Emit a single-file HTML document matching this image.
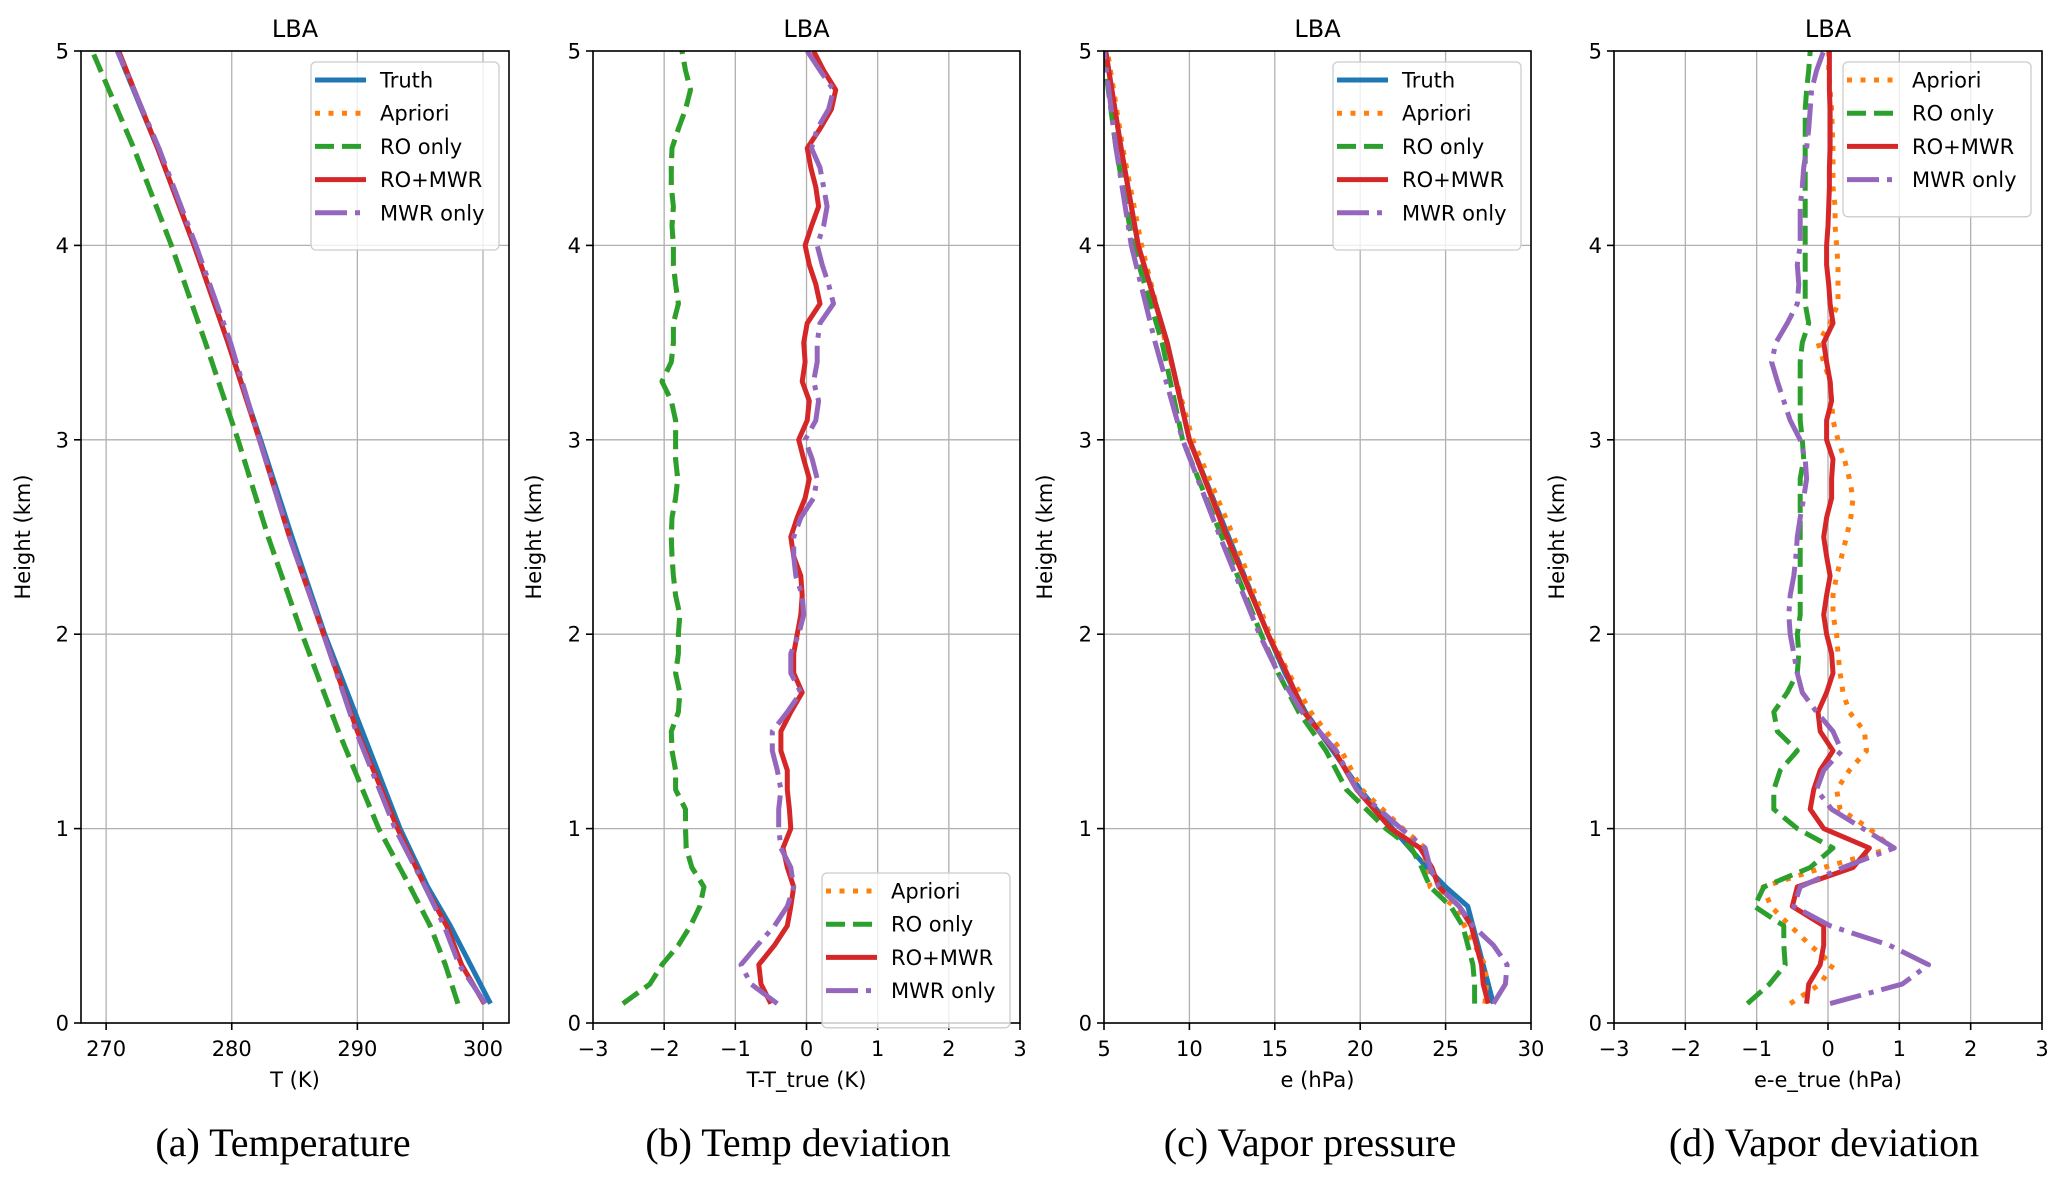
<!DOCTYPE html>
<html><head><meta charset="utf-8">
<style>
html,body{margin:0;padding:0;background:#fff;}
svg{display:block;font-family:"DejaVu Sans","Liberation Sans",sans-serif;}
.cap{font-family:"Liberation Serif",serif;font-size:40px;fill:#000;}
</style></head>
<body>
<svg id="fig" width="2067" height="1181" viewBox="0 0 2067 1181" xmlns="http://www.w3.org/2000/svg"></svg>
<script>
// ---------- DATA ----------
// Panel (a) Temperature
const aHeights = [0.1,0.3,0.5,0.7,1.0,1.5,2.0,2.5,3.0,3.5,4.0,4.5,5.0];
const aTruth  = [300.6,299.0,297.4,295.6,293.4,290.4,287.4,284.8,282.3,279.7,277.0,274.1,270.9];
const aApriori= [298.0,297.0,295.8,294.2,291.7,288.5,285.6,282.9,280.5,277.9,275.2,272.2,268.9];
const aRO     = [298.0,297.0,295.8,294.2,291.7,288.5,285.6,282.9,280.5,277.9,275.2,272.2,268.9];
const aROMWR  = [300.1,298.3,297.1,295.4,293.2,290.0,287.3,284.6,282.2,279.7,277.0,274.1,271.0];
const aMWR    = [300.2,298.1,296.9,295.4,293.0,289.9,287.3,284.6,282.2,279.9,277.15,274.2,270.9];
const aXTicks = [270,280,290,300];

// Panels (b) and (d): heights 0.1..5.0 step 0.1
const devHeights = [0.1,0.2,0.3,0.4,0.5,0.6,0.7,0.8,0.9,1.0,1.1,1.2,1.3,1.4,1.5,1.6,1.7,1.8,1.9,2.0,2.1,2.2,2.3,2.4,2.5,2.6,2.7,2.8,2.9,3.0,3.1,3.2,3.3,3.4,3.5,3.6,3.7,3.8,3.9,4.0,4.1,4.2,4.3,4.4,4.5,4.6,4.7,4.8,4.9,5.0];
const bApriori = [-2.58,-2.2,-2.03,-1.8,-1.63,-1.5,-1.44,-1.61,-1.69,-1.7,-1.7,-1.84,-1.84,-1.89,-1.9,-1.8,-1.78,-1.84,-1.8,-1.8,-1.78,-1.84,-1.87,-1.89,-1.9,-1.89,-1.84,-1.81,-1.84,-1.84,-1.84,-1.9,-2.03,-1.9,-1.87,-1.87,-1.8,-1.84,-1.87,-1.87,-1.89,-1.87,-1.9,-1.9,-1.89,-1.8,-1.7,-1.63,-1.7,-1.75];
const bRO      = [-2.58,-2.2,-2.03,-1.8,-1.63,-1.5,-1.44,-1.61,-1.69,-1.7,-1.7,-1.84,-1.84,-1.89,-1.9,-1.8,-1.78,-1.84,-1.8,-1.8,-1.78,-1.84,-1.87,-1.89,-1.9,-1.89,-1.84,-1.81,-1.84,-1.84,-1.84,-1.9,-2.03,-1.9,-1.87,-1.87,-1.8,-1.84,-1.87,-1.87,-1.89,-1.87,-1.9,-1.9,-1.89,-1.8,-1.7,-1.63,-1.7,-1.75];
const bROMWR   = [-0.5,-0.64,-0.67,-0.45,-0.27,-0.22,-0.18,-0.27,-0.33,-0.22,-0.24,-0.27,-0.27,-0.36,-0.36,-0.22,-0.06,-0.18,-0.18,-0.13,-0.08,-0.06,-0.08,-0.18,-0.22,-0.13,-0.02,0.04,-0.04,-0.11,0.01,0.04,-0.06,-0.02,-0.04,0.01,0.19,0.13,0.04,-0.02,0.07,0.17,0.13,0.06,0.01,0.19,0.35,0.41,0.24,0.1];
const bMWR     = [-0.41,-0.78,-0.92,-0.69,-0.45,-0.27,-0.18,-0.22,-0.36,-0.39,-0.39,-0.36,-0.41,-0.48,-0.48,-0.27,-0.08,-0.22,-0.22,-0.11,-0.04,-0.06,-0.15,-0.18,-0.18,-0.08,0.1,0.15,0.08,-0.02,0.13,0.17,0.1,0.15,0.15,0.19,0.38,0.31,0.22,0.15,0.24,0.29,0.24,0.19,0.07,0.15,0.31,0.38,0.19,0.01];
const devXTicks = [-3,-2,-1,0,1,2,3];

// Panel (c) Vapor pressure
const cHeights = [0.1,0.2,0.3,0.4,0.5,0.6,0.7,0.8,0.9,1.0,1.2,1.4,1.6,1.8,2.0,2.5,3.0,3.5,4.0,4.5,5.0];
const cTruth   = [27.8,27.5,27.2,26.9,26.6,26.3,25.0,23.9,22.9,21.9,20.0,18.4,16.8,15.6,14.6,12.3,10.0,8.7,7.0,6.0,5.1];
const cApriori = [27.3,27.4,27.3,26.7,26.1,25.5,24.1,23.8,23.8,22.5,20.1,18.9,17.1,15.8,14.7,12.6,10.2,8.6,7.2,6.1,5.2];
const cRO      = [26.7,26.7,26.6,26.3,26.0,25.3,24.1,23.6,23.0,21.5,19.2,18.0,16.4,15.2,14.2,11.9,9.6,8.4,6.7,5.7,4.95];
const cROMWR   = [27.5,27.2,27.1,26.8,26.5,25.8,24.6,24.2,23.5,21.8,19.8,18.5,16.7,15.7,14.6,12.2,10.0,8.7,7.0,6.0,5.1];
const cMWR     = [27.8,28.5,28.6,27.8,26.6,25.8,24.6,24.1,23.8,22.4,19.8,18.6,16.6,15.2,14.1,11.8,9.6,8.0,6.6,5.7,5.0];
const cXTicks  = [5,10,15,20,25,30];

// Panel (d) Vapor deviation
const dApriori = [-0.53,-0.11,0.07,-0.25,-0.53,-0.8,-0.91,-0.06,0.9,0.58,0.17,0.12,0.3,0.54,0.51,0.3,0.21,0.17,0.14,0.12,0.07,0.07,0.12,0.19,0.26,0.32,0.35,0.3,0.23,0.14,0.07,0.05,0.03,-0.06,-0.14,0.03,0.14,0.14,0.14,0.12,0.1,0.1,0.07,0.07,0.07,0.06,0.05,0.03,0.01,0.01];
const dRO      = [-1.13,-0.82,-0.6,-0.62,-0.62,-1.03,-0.9,-0.25,0.07,-0.43,-0.76,-0.76,-0.67,-0.43,-0.71,-0.76,-0.57,-0.43,-0.41,-0.43,-0.39,-0.39,-0.39,-0.39,-0.39,-0.39,-0.39,-0.39,-0.34,-0.36,-0.39,-0.39,-0.39,-0.39,-0.36,-0.27,-0.32,-0.32,-0.32,-0.32,-0.32,-0.32,-0.32,-0.32,-0.32,-0.32,-0.32,-0.3,-0.27,-0.25];
const dROMWR   = [-0.3,-0.27,-0.11,-0.06,-0.06,-0.5,-0.43,0.35,0.58,-0.06,-0.25,-0.2,-0.11,0.07,-0.11,-0.14,-0.02,0.07,0.05,-0.02,-0.06,-0.02,0.03,-0.02,-0.06,-0.02,0.05,0.05,0.07,-0.02,-0.02,0.05,0.03,-0.02,-0.06,0.07,0.03,0.01,-0.02,-0.02,0.0,0.01,0.02,0.02,0.03,0.03,0.03,0.02,0.02,0.02];
const dMWR     = [0.03,1.04,1.41,0.86,0.03,-0.48,-0.39,0.21,0.93,0.49,0.05,-0.16,-0.06,0.19,0.07,-0.16,-0.36,-0.43,-0.48,-0.53,-0.55,-0.53,-0.48,-0.45,-0.43,-0.39,-0.34,-0.3,-0.32,-0.39,-0.53,-0.62,-0.71,-0.79,-0.73,-0.57,-0.43,-0.41,-0.43,-0.39,-0.39,-0.39,-0.36,-0.34,-0.3,-0.27,-0.25,-0.23,-0.16,-0.06];

const yTicks = [0,1,2,3,4,5];

// ---------- DRAWING ----------
const NS = "http://www.w3.org/2000/svg";
const svg = document.getElementById('fig');
const TOP = 51, BOT = 1023;
const COL = {truth:'#1f77b4', apriori:'#ff7f0e', ro:'#2ca02c', romwr:'#d62728', mwr:'#9467bd'};
const LW = 5;
const STYLE = {
  truth:{c:COL.truth,d:null,cap:'butt'},
  apriori:{c:COL.apriori,d:'5 8.5',cap:'butt'},
  ro:{c:COL.ro,d:'19 8',cap:'butt'},
  romwr:{c:COL.romwr,d:null,cap:'butt'},
  mwr:{c:COL.mwr,d:'32 8 5 8',cap:'butt'}
};
const LABELS = {truth:'Truth',apriori:'Apriori',ro:'RO only',romwr:'RO+MWR',mwr:'MWR only'};

function mk(tag, attrs, parent){
  const e = document.createElementNS(NS, tag);
  for (const k in attrs) e.setAttribute(k, attrs[k]);
  (parent||svg).appendChild(e);
  return e;
}

function panel(p){
  const g = mk('g', {});
  
  
  const L = p.left, R = p.right;
  const xs = v => L + (v - p.xmin) / (p.xmax - p.xmin) * (R - L);
  const ys = h => BOT - h / 5 * (BOT - TOP);
  // grid
  p.xticks.forEach(t => {
    const x = xs(t);
    const gl = mk('line', {x1:x, x2:x, y1:TOP, y2:BOT, stroke:'#b0b0b0', 'stroke-width':1.3}, g);
    
    
  });
  yTicks.forEach(t => {
    const y = ys(t);
    const gl = mk('line', {x1:L, x2:R, y1:y, y2:y, stroke:'#b0b0b0', 'stroke-width':1.3}, g);
    
    
  });
  // clip
  const cid = 'clip' + p.name;
  const cp = mk('clipPath', {id:cid}, g);
  mk('rect', {x:L, y:TOP, width:R-L, height:BOT-TOP}, cp);
  const sg = mk('g', {'clip-path':'url(#'+cid+')'}, g);
  // series
  p.series.forEach(s => {
    const st = STYLE[s.key];
    const pts = p.heights.map((h,i) => xs(s.vals[i]).toFixed(1) + ',' + ys(h).toFixed(1)).join(' ');
    const attrs = {points:pts, fill:'none', stroke:st.c, 'stroke-width':LW, 'stroke-linecap':st.cap, 'stroke-linejoin':'round'};
    if (st.d) attrs['stroke-dasharray'] = st.d;
    const pl = mk('polyline', attrs, sg);
    
    
  });
  // frame
  const fr = mk('rect', {x:L, y:TOP, width:R-L, height:BOT-TOP, fill:'none', stroke:'#000', 'stroke-width':1.6}, g);
  
  
  // ticks
  p.xticks.forEach(t => {
    const x = xs(t);
    mk('line', {x1:x, x2:x, y1:BOT, y2:BOT+7, stroke:'#000', 'stroke-width':1.6}, g);
    const tx = mk('text', {x:x, y:BOT+33, 'font-size':21, 'text-anchor':'middle', fill:'#000'}, g);
    tx.textContent = t < 0 ? '\u2212' + Math.abs(t) : String(t);
    
    
  });
  yTicks.forEach(t => {
    const y = ys(t);
    mk('line', {x1:L-7, x2:L, y1:y, y2:y, stroke:'#000', 'stroke-width':1.6}, g);
    const tx = mk('text', {x:L-12, y:y+7.5, 'font-size':21, 'text-anchor':'end', fill:'#000'}, g);
    tx.textContent = String(t);
    
    
  });
  // labels
  const ti = mk('text', {x:(L+R)/2, y:37, 'font-size':24, 'text-anchor':'middle', fill:'#000'}, g);
  ti.textContent = 'LBA';
  
  
  const xl = mk('text', {x:(L+R)/2, y:1087, 'font-size':21, 'text-anchor':'middle', fill:'#000'}, g);
  xl.textContent = p.xlabel;
  
  
  const yl = mk('text', {x:0, y:0, 'font-size':21, 'text-anchor':'middle', fill:'#000', transform:'translate('+(p.ylabx)+','+((TOP+BOT)/2)+') rotate(-90)'}, g);
  yl.textContent = 'Height (km)';
  
  
  const cap = mk('text', {x:p.capx, y:1156, 'text-anchor':'middle', 'class':'cap'}, g);
  cap.textContent = p.caption;
  
  
  // legend
  const lg = mk('g', {}, g);
  
  
  const n = p.legend.keys.length;
  const bx = p.legend.x, by = p.legend.y, bw = 188, bh = 22 + n*33.2;
  mk('rect', {x:bx, y:by, width:bw, height:bh, rx:5, fill:'#fff', 'fill-opacity':0.8, stroke:'#cccccc', 'stroke-width':1.3}, lg);
  p.legend.keys.forEach((k,i) => {
    const st = STYLE[k];
    const y = by + 18 + i*33.2;
    const la = {x1:bx+4, x2:bx+55, y1:y, y2:y, stroke:st.c, 'stroke-width':LW, 'stroke-linecap':st.cap};
    if (st.d) la['stroke-dasharray'] = st.d;
    const ln = mk('line', la, lg);
    
    
    const tx = mk('text', {x:bx+69, y:y+7.5, 'font-size':21, fill:'#000'}, lg);
    tx.textContent = LABELS[k];
    
    
  });
}

panel({name:'panel-temperature', left:81, right:509, xmin:268.0, xmax:302.07, xticks:aXTicks, heights:aHeights,
  xlabel:'T (K)', ylabx:30, capx:283, caption:'(a) Temperature',
  series:[{key:'truth',vals:aTruth},{key:'apriori',vals:aApriori},{key:'ro',vals:aRO},{key:'romwr',vals:aROMWR},{key:'mwr',vals:aMWR}],
  legend:{x:311,y:62,keys:['truth','apriori','ro','romwr','mwr']}});

panel({name:'panel-temp-deviation', left:593, right:1020, xmin:-3, xmax:3, xticks:devXTicks, heights:devHeights,
  xlabel:'T-T_true (K)', ylabx:541, capx:798, caption:'(b) Temp deviation',
  series:[{key:'apriori',vals:bApriori},{key:'ro',vals:bRO},{key:'romwr',vals:bROMWR},{key:'mwr',vals:bMWR}],
  legend:{x:822,y:873,keys:['apriori','ro','romwr','mwr']}});

panel({name:'panel-vapor-pressure', left:1104, right:1531, xmin:5, xmax:30, xticks:cXTicks, heights:cHeights,
  xlabel:'e (hPa)', ylabx:1052, capx:1310, caption:'(c) Vapor pressure',
  series:[{key:'truth',vals:cTruth},{key:'apriori',vals:cApriori},{key:'ro',vals:cRO},{key:'romwr',vals:cROMWR},{key:'mwr',vals:cMWR}],
  legend:{x:1333,y:62,keys:['truth','apriori','ro','romwr','mwr']}});

panel({name:'panel-vapor-deviation', left:1614, right:2042, xmin:-3, xmax:3, xticks:devXTicks, heights:devHeights,
  xlabel:'e-e_true (hPa)', ylabx:1564, capx:1824, caption:'(d) Vapor deviation',
  series:[{key:'apriori',vals:dApriori},{key:'ro',vals:dRO},{key:'romwr',vals:dROMWR},{key:'mwr',vals:dMWR}],
  legend:{x:1843,y:62,keys:['apriori','ro','romwr','mwr']}});
</script>
</body></html>
